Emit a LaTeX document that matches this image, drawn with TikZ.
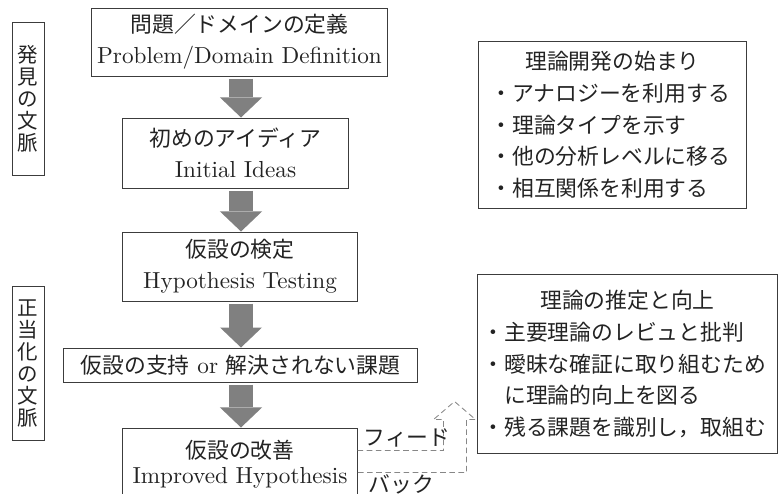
\documentclass[tikz,border=0pt]{standalone}
\usepackage{fontspec}
\setmainfont{lmroman10-regular.otf}
\newfontfamily\jp[Scale=0.94]{Noto Sans CJK JP}
\usepackage{tikz}
\usetikzlibrary{arrows.meta, calc}
\definecolor{framegray}{RGB}{60,60,60}
\definecolor{inkgray}{RGB}{35,35,35}
\definecolor{arrowgray}{RGB}{128,128,128}
\definecolor{dashgray}{RGB}{135,135,135}
\tikzset{
    box/.style={rectangle, draw=framegray, line width=0.7pt, inner sep=0pt,
                align=center, text=inkgray, font=\fontsize{16.5}{22}\selectfont},
    sidebox/.style={rectangle, draw=framegray, line width=0.7pt, inner sep=0pt,
                    minimum width=0.8cm, align=center, text=inkgray,
                    font=\fontsize{15.5}{15.6}\selectfont\jp},
    notebox/.style={rectangle, draw=framegray, line width=0.7pt, inner ysep=0pt,
                    align=left, text=inkgray, font=\fontsize{16.5}{22.5}\selectfont\jp},
    arrow/.style={arrowgray, line width=0.6cm, shorten <=0.05cm,
                  -{Triangle[length=0.5cm, width=1.05cm, line width=0pt]}},
    feedback/.style={dashgray, line width=0.6pt, dash pattern=on 4pt off 2.5pt},
    fblabel/.style={text=inkgray, inner sep=0pt, font=\fontsize{16.5}{18}\selectfont\jp}
}

\begin{document}
\begin{tikzpicture}[x=0.025cm, y=-0.025cm]
    \useasboundingbox (0,0) rectangle (779,494);
    \clip (0,0) rectangle (779,494);

    % Main flow
    \node[box, minimum width=7.375cm, minimum height=1.7cm] (prob) at (239.5,42)
        {{\jp 問題／ドメインの定義}\\Problem/Domain Definition};
    \node[box, minimum width=5.625cm, minimum height=1.75cm] (ideas) at (235.5,153)
        {{\jp 初めのアイディア}\\Initial Ideas};
    \node[box, minimum width=5.85cm, minimum height=1.725cm] (test) at (240,266.5)
        {{\jp 仮設の検定}\\Hypothesis Testing};
    \node[box, minimum width=8.825cm, minimum height=0.85cm] (support) at (240.5,365)
        {{\jp 仮設の支持} or {\jp 解決されない課題}};
    \node[box, minimum width=5.85cm, minimum height=1.8cm,
          font=\fontsize{16.5}{17.8}\selectfont] (improve) at (240,464)
        {{\jp 仮設の改善}\\Improved Hypothesis};

    % Block arrows
    \coordinate (spine) at (241,0);
    \draw[arrow] (spine |- prob.south) -- (spine |- ideas.north);
    \draw[arrow] (spine |- ideas.south) -- (spine |- test.north);
    \draw[arrow] (spine |- test.south) -- (spine |- support.north);
    \draw[arrow] (spine |- support.south) -- (spine |- improve.north);

    % Contexts
    \node[sidebox, minimum height=3.8cm] (discovery) at (28,99) {発\\見\\の\\文\\脈};
    \node[sidebox, minimum height=3.825cm] (justify) at (28,363.5) {正\\当\\化\\の\\文\\脈};

    % Notes
    \node[notebox, minimum width=6.675cm, minimum height=4.15cm, text width=6.1cm]
        (start) at (612.5,125)
        {{\centering 理論開発の始まり\par}
         ・アナロジーを利用する\\
         ・理論タイプを示す\\
         ・他の分析レベルに移る\\
         ・相互関係を利用する};
    \node[notebox, minimum width=7.425cm, minimum height=4.45cm, text width=7.25cm]
        (refine) at (627.5,364)
        {{\centering 理論の推定と向上\par}
         ・主要理論のレビュと批判\\
         ・曖昧な確証に取り組むため\\
         \hspace*{1em}に理論的向上を図る\\
         ・残る課題を識別し，取組む};

    % Feedback
    \draw[feedback] ($(improve.north east)+(0,23)$) -| ++(86,-31) -- ++(-10,0)
        -- ++(21,-18) -- ++(21,18) -- ++(-9,0) |- ($(improve.north east)+(0,45)$);
    \node[fblabel, anchor=west] (fbtop) at ($(improve.north east)+(6,10)$) {フィード};
    \node[fblabel, anchor=west] (fbbottom) at ($(improve.north east)+(11,57)$) {バック};
\end{tikzpicture}
\end{document}
